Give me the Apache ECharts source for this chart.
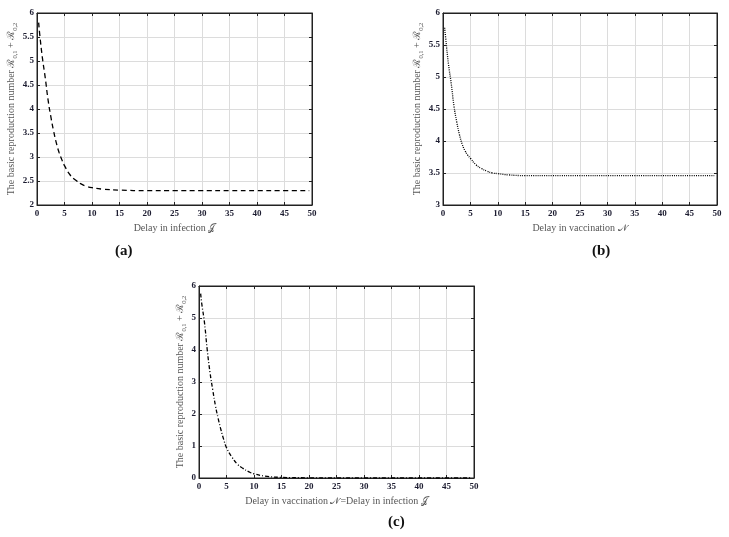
<!DOCTYPE html>
<html><head><meta charset="utf-8">
<script src="https://cdn.jsdelivr.net/npm/echarts@6/dist/echarts.min.js"></script>
<style>html,body{margin:0;padding:0;background:#fff}#c{width:729px;height:537px}</style>
</head><body><div id="c"></div>
<script>
// x tick labels (all panels)
const xTicks = [0,5,10,15,20,25,30,35,40,45,50];
// Panel (a): delay in infection
const xA = [0.3,0.5,1,1.5,2,2.5,3,3.5,4,4.5,5,6,7,8,9,10,12,15,20,25,30,35,40,45,49.5];
const yA = [5.8,5.55,5.05,4.65,4.2,3.85,3.55,3.3,3.1,2.95,2.82,2.63,2.52,2.44,2.39,2.36,2.33,2.31,2.3,2.3,2.3,2.3,2.3,2.3,2.3];
// Panel (b): delay in vaccination
const xB = [0.3,0.5,1,1.5,2,2.5,3,3.5,4,4.5,5,6,7,8,9,10,12,15,20,25,30,35,40,45,49.5];
const yB = [5.77,5.6,5.2,4.9,4.55,4.3,4.1,3.95,3.85,3.78,3.73,3.63,3.57,3.53,3.5,3.49,3.47,3.46,3.46,3.46,3.46,3.46,3.46,3.46,3.46];
// Panel (c): both delays equal
const xC = [0.3,0.5,1,1.5,2,2.5,3,3.5,4,4.5,5,6,7,8,9,10,12,15,20,25,30,35,40,45,49.5];
const yC = [5.76,5.45,4.85,4.0,3.3,2.75,2.25,1.85,1.5,1.2,0.95,0.65,0.43,0.3,0.2,0.13,0.06,0.02,0.005,0,0,0,0,0,0];

const serif = '"Liberation Serif","DejaVu Serif",serif';
const panels = [
  {left:37, top:13, w:275, h:192, ymin:2, ymax:6, yint:0.5, xs:xA, ys:yA, dash:[5,3.5], xname:'Delay in infection 𝒥', ynameGap:17},
  {left:443, top:13, w:274, h:192, ymin:3, ymax:6, yint:0.5, xs:xB, ys:yB, dash:[1,1.2], xname:'Delay in vaccination 𝒩', ynameGap:17},
  {left:199, top:286, w:275, h:192, ymin:0, ymax:6, yint:1, xs:xC, ys:yC, dash:[4,2,1,2], xname:'Delay in vaccination 𝒩=Delay in infection 𝒥', ynameGap:9}
];
const grid=[], xAxis=[], yAxis=[], series=[];
const tickLab = {fontFamily:serif, fontSize:9, fontWeight:'bold', color:'#1c1c30', margin:4};
panels.forEach((p,i)=>{
  grid.push({left:p.left, top:p.top, width:p.w, height:p.h, show:true, borderColor:'#222', borderWidth:1, backgroundColor:'#fff'});
  xAxis.push({type:'value', gridIndex:i, min:0, max:50, interval:5,
    axisLine:{show:true, onZero:false, lineStyle:{color:'#222', width:1}},
    axisTick:{show:true, inside:true, length:3, lineStyle:{color:'#222'}},
    splitLine:{show:true, lineStyle:{color:'#dcdcdc', width:1}},
    axisLabel:{...tickLab, formatter:v=>xTicks.includes(v)?String(v):''},
    name:p.xname, nameLocation:'middle', nameGap:18,
    nameTextStyle:{fontFamily:serif, fontSize:10, color:'#555'}});
  xAxis.push({type:'value', gridIndex:i, position:'top', min:0, max:50, interval:5,
    axisLine:{show:true, onZero:false, lineStyle:{color:'#222'}},
    axisTick:{show:true, inside:true, length:3, lineStyle:{color:'#222'}},
    splitLine:{show:false}, axisLabel:{show:false}});
  yAxis.push({type:'value', gridIndex:i, min:p.ymin, max:p.ymax, interval:p.yint,
    axisLine:{show:true, onZero:false, lineStyle:{color:'#222', width:1}},
    axisTick:{show:true, inside:true, length:3, lineStyle:{color:'#222'}},
    splitLine:{show:true, lineStyle:{color:'#dcdcdc', width:1}},
    axisLabel:{...tickLab, margin:3},
    name:'{t|The basic reproduction number ℛ}{s|0,1}{t| + ℛ}{s|0,2}', nameLocation:'middle', nameGap:p.ynameGap, nameRotate:90,
    nameTextStyle:{fontFamily:serif, fontSize:10, color:'#555',
      rich:{t:{fontFamily:serif, fontSize:10, color:'#555', verticalAlign:'middle', lineHeight:14},
            s:{fontFamily:serif, fontSize:6.5, color:'#555', verticalAlign:'bottom', lineHeight:14}}}});
  yAxis.push({type:'value', gridIndex:i, position:'right', min:p.ymin, max:p.ymax, interval:p.yint,
    axisLine:{show:true, onZero:false, lineStyle:{color:'#222'}},
    axisTick:{show:true, inside:true, length:3, lineStyle:{color:'#222'}},
    splitLine:{show:false}, axisLabel:{show:false}});
  series.push({type:'line', xAxisIndex:2*i, yAxisIndex:2*i, showSymbol:false, smooth:true, silent:true,
    data:p.xs.map((x,k)=>[x,p.ys[k]]),
    lineStyle:{color:'#000', width:1.3, type:p.dash}});
});
const chart = echarts.init(document.getElementById('c'), null, {renderer:'canvas'});
chart.setOption({
  animation:false,
  grid, xAxis, yAxis, series,
  graphic:[
    {type:'text', left:115, top:244, style:{text:'(a)', font:'bold 15px '+serif, fill:'#111'}},
    {type:'text', left:592, top:244, style:{text:'(b)', font:'bold 15px '+serif, fill:'#111'}},
    {type:'text', left:388, top:515, style:{text:'(c)', font:'bold 15px '+serif, fill:'#111'}}
  ]
});
</script></body></html>
